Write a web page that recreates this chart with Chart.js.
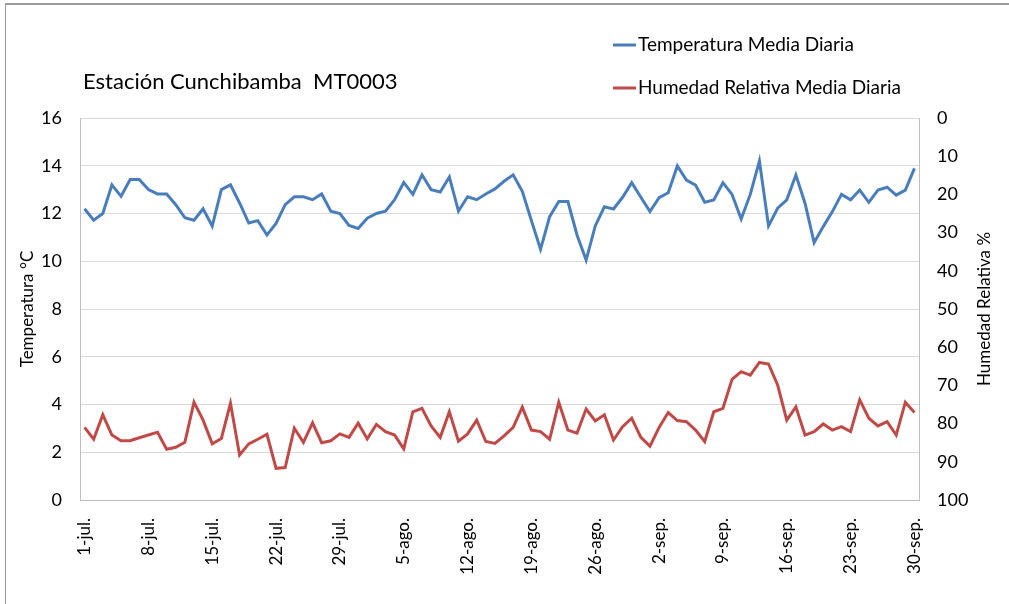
<!DOCTYPE html>
<html>
<head>
<meta charset="utf-8">
<script src="https://cdn.jsdelivr.net/npm/chart.js@4.4.0/dist/chart.umd.min.js"></script>
<style>
  html, body { margin: 0; padding: 0; background: #ffffff; }
  #wrap { position: relative; width: 1009px; height: 604px; overflow: hidden; }
  #frame { position: absolute; left: 5px; top: 3px; width: 1100px; height: 700px;
           border-left: 1px solid #9a9a9a; border-top: 2px solid #9a9a9a; pointer-events: none; }
  canvas { position: absolute; left: 0; top: 0; }
</style>
</head>
<body>
<div id="wrap">
  <canvas id="c" width="1009" height="604"></canvas>
  <div id="frame"></div>
</div>
<script>
const chartTitle = "Estación Cunchibamba  MT0003";
const leftAxisTitle = "Temperatura °C";
const rightAxisTitle = "Humedad Relativa %";

const categories = [
  "1-jul.","2-jul.","3-jul.","4-jul.","5-jul.","6-jul.","7-jul.","8-jul.","9-jul.","10-jul.",
  "11-jul.","12-jul.","13-jul.","14-jul.","15-jul.","16-jul.","17-jul.","18-jul.","19-jul.","20-jul.",
  "21-jul.","22-jul.","23-jul.","24-jul.","25-jul.","26-jul.","27-jul.","28-jul.","29-jul.","30-jul.","31-jul.",
  "1-ago.","2-ago.","3-ago.","4-ago.","5-ago.","6-ago.","7-ago.","8-ago.","9-ago.","10-ago.",
  "11-ago.","12-ago.","13-ago.","14-ago.","15-ago.","16-ago.","17-ago.","18-ago.","19-ago.","20-ago.",
  "21-ago.","22-ago.","23-ago.","24-ago.","25-ago.","26-ago.","27-ago.","28-ago.","29-ago.","30-ago.","31-ago.",
  "1-sep.","2-sep.","3-sep.","4-sep.","5-sep.","6-sep.","7-sep.","8-sep.","9-sep.","10-sep.",
  "11-sep.","12-sep.","13-sep.","14-sep.","15-sep.","16-sep.","17-sep.","18-sep.","19-sep.","20-sep.",
  "21-sep.","22-sep.","23-sep.","24-sep.","25-sep.","26-sep.","27-sep.","28-sep.","29-sep.","30-sep."
];

const tickLabels = ["1-jul.","8-jul.","15-jul.","22-jul.","29-jul.","5-ago.","12-ago.","19-ago.","26-ago.","2-sep.","9-sep.","16-sep.","23-sep.","30-sep."];

const temperatura = [
  12.2, 11.72, 12.0, 13.2, 12.72, 13.42, 13.42, 13.0, 12.82, 12.82,
  12.37, 11.82, 11.72, 12.2, 11.47, 13.0, 13.2, 12.44, 11.6, 11.7,
  11.1, 11.58, 12.37, 12.7, 12.7, 12.58, 12.82, 12.1, 12.0, 11.5, 11.37,
  11.8, 12.0, 12.1, 12.58, 13.3, 12.8, 13.62, 13.0, 12.9, 13.53,
  12.1, 12.7, 12.58, 12.82, 13.03, 13.35, 13.62, 12.93, 11.7, 10.5,
  11.87, 12.5, 12.5, 11.1, 10.05, 11.48, 12.28, 12.19, 12.68, 13.29, 12.68,
  12.08, 12.66, 12.87, 13.99, 13.4, 13.19, 12.47, 12.57, 13.29, 12.8,
  11.77, 12.8, 14.2, 11.48, 12.22, 12.57, 13.61, 12.43, 10.78, 11.45,
  12.08, 12.8, 12.57, 12.98, 12.47, 12.98, 13.1, 12.77, 12.98, 13.89
];

const humedad = [
  81.0, 84.1, 77.7, 83.0, 84.5, 84.5, 83.7, 83.0, 82.3, 86.7,
  86.2, 84.9, 74.4, 79.1, 85.3, 83.9, 74.7, 88.2, 85.3, 84.1,
  82.8, 91.7, 91.5, 81.2, 84.9, 79.8, 85.0, 84.5, 82.7, 83.6, 79.9,
  84.0, 80.2, 82.1, 83.0, 86.6, 76.9, 76.0, 80.6, 83.6, 76.9,
  84.6, 82.7, 79.1, 84.7, 85.2, 83.2, 81.0, 75.7, 81.7, 82.1,
  84.1, 74.4, 81.7, 82.5, 76.2, 79.3, 77.7, 84.3, 80.8, 78.6, 83.6,
  85.9, 81.0, 77.1, 79.2, 79.5, 81.7, 84.7, 76.9, 76.0, 68.4,
  66.4, 67.3, 64.0, 64.4, 69.9, 79.1, 75.6, 83.0, 82.1, 80.1,
  81.7, 80.8, 82.1, 73.8, 78.6, 80.6, 79.5, 83.0, 74.4, 77.1
];

const FONT = "Lato, 'Open Sans', 'Liberation Sans', sans-serif";
const BLUE = "#4a7ebb";
const RED = "#be4b48";

const decorPlugin = {
  id: "decor",
  afterDraw(chart) {
    const ctx = chart.ctx;
    const area = chart.chartArea;
    ctx.save();
    ctx.fillStyle = "#000000";
    // chart title
    ctx.font = "22px " + FONT;
    ctx.textAlign = "left";
    ctx.textBaseline = "middle";
    ctx.fillText(chartTitle, 83, 82);
    // legend (vertical, from datasets)
    ctx.font = "19px " + FONT;
    chart.data.datasets.forEach((ds, i) => {
      const y = 45 + i * 43;
      ctx.strokeStyle = ds.borderColor;
      ctx.lineWidth = 3;
      ctx.beginPath();
      ctx.moveTo(613, y);
      ctx.lineTo(636, y);
      ctx.stroke();
      ctx.fillStyle = "#000000";
      ctx.fillText(ds.label, 638, y);
    });
    // axis titles (both read bottom-to-top)
    const cy = (area.top + area.bottom) / 2;
    ctx.font = "17px " + FONT;
    ctx.textAlign = "center";
    ctx.save();
    ctx.translate(28, cy);
    ctx.rotate(-Math.PI / 2);
    ctx.fillText(leftAxisTitle, 0, 0);
    ctx.restore();
    ctx.save();
    ctx.translate(985, cy);
    ctx.rotate(-Math.PI / 2);
    ctx.fillText(rightAxisTitle, 0, 0);
    ctx.restore();
    ctx.restore();
  }
};

new Chart(document.getElementById("c"), {
  type: "line",
  data: {
    labels: categories,
    datasets: [
      { label: "Temperatura Media Diaria", data: temperatura, yAxisID: "y",
        borderColor: BLUE, backgroundColor: BLUE, borderWidth: 3, pointRadius: 0,
        tension: 0, fill: false },
      { label: "Humedad Relativa Media Diaria", data: humedad, yAxisID: "y1",
        borderColor: RED, backgroundColor: RED, borderWidth: 3, pointRadius: 0,
        tension: 0, fill: false }
    ]
  },
  options: {
    responsive: false,
    animation: false,
    devicePixelRatio: 1,
    layout: { padding: { top: 118, left: 0, right: 0, bottom: 0 } },
    plugins: { legend: { display: false }, title: { display: false }, tooltip: { enabled: false } },
    scales: {
      x: {
        type: "category",
        offset: true,
        grid: { display: false },
        border: { display: true, color: "#bfbfbf", width: 1 },
        ticks: {
          autoSkip: false,
          minRotation: 90,
          maxRotation: 90,
          padding: 10,
          color: "#000000",
          font: { family: FONT, size: 17 },
          callback: function (value, index) {
            const lab = categories[index];
            return tickLabels.includes(lab) ? lab : "";
          }
        },
        afterFit: (s) => { s.height = 104; }
      },
      y: {
        position: "left",
        min: 0, max: 16,
        grid: { color: "#d9d9d9", lineWidth: 1, drawTicks: false },
        border: { display: true, color: "#bfbfbf", width: 1 },
        ticks: { stepSize: 2, padding: 18, color: "#000000", font: { family: FONT, size: 18 } },
        afterFit: (s) => { s.width = 80; }
      },
      y1: {
        position: "right",
        min: 0, max: 100,
        reverse: true,
        grid: { drawOnChartArea: false, drawTicks: false },
        border: { display: true, color: "#bfbfbf", width: 1 },
        ticks: { stepSize: 10, padding: 18, color: "#000000", font: { family: FONT, size: 18 } },
        afterFit: (s) => { s.width = 90; }
      }
    }
  },
  plugins: [decorPlugin]
});
</script>
</body>
</html>
